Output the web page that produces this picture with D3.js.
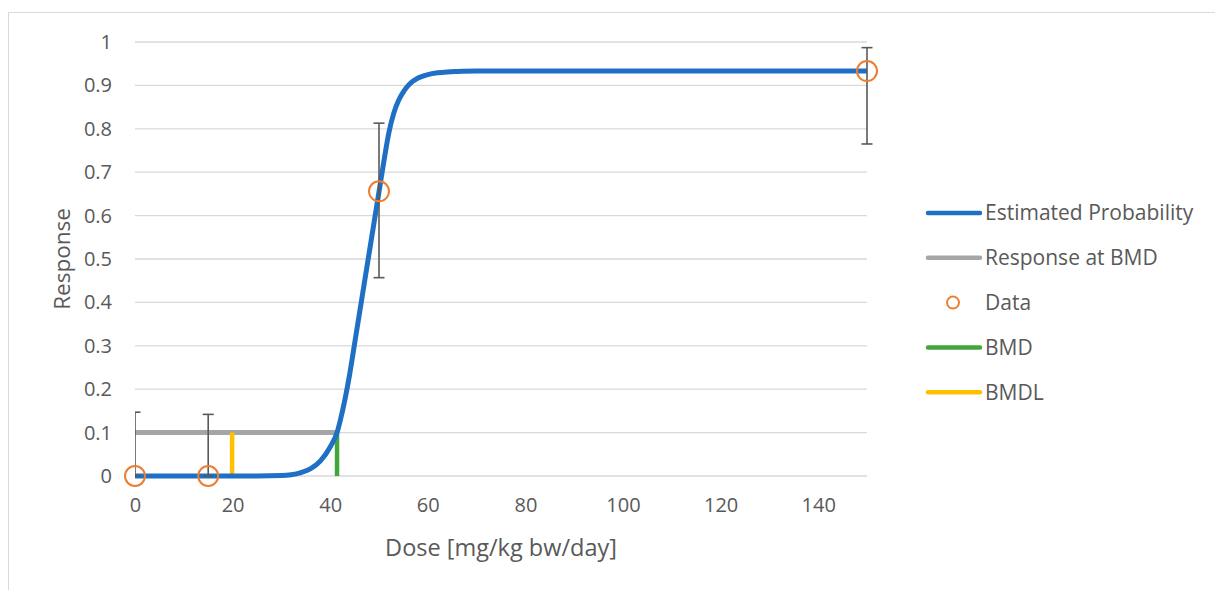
<!DOCTYPE html>
<html>
<head>
<meta charset="utf-8">
<script src="https://cdn.jsdelivr.net/npm/d3@7"></script>
<style>
  body { margin: 0; background: #fff; }
  svg text { font-family: "Open Sans", sans-serif; fill: #595959; }
</style>
</head>
<body>
<div id="chart"></div>
<script>
// fitted curve
const curveDose = [0, 5, 10, 15, 20, 25, 30, 32, 34, 36, 38, 40, 41.4, 42, 43, 44, 45, 46, 47, 48, 49, 50, 51, 52, 53, 54, 55, 56, 57, 58, 60, 62, 64, 66, 70, 80, 100, 120, 150];
const curveProb = [0, 0, 0, 0, 0, 0, 0.001, 0.003, 0.008, 0.017, 0.035, 0.067, 0.1, 0.125, 0.175, 0.235, 0.305, 0.375, 0.445, 0.515, 0.585, 0.655, 0.725, 0.79, 0.835, 0.865, 0.885, 0.9, 0.91, 0.917, 0.925, 0.929, 0.931, 0.932, 0.933, 0.933, 0.933, 0.933, 0.933];

// observed data with error bars
const dataDose = [0, 15, 50, 150];
const dataResp = [0, 0, 0.656, 0.933];
const errLow = [0, 0, 0.457, 0.765];
const errHigh = [0.147, 0.142, 0.813, 0.987];

const bmr = 0.1;
const bmd = 41.4;
const bmdl = 19.9;

const yTicks = [0, 0.1, 0.2, 0.3, 0.4, 0.5, 0.6, 0.7, 0.8, 0.9, 1];
const xTicks = [0, 20, 40, 60, 80, 100, 120, 140];
const legendItems = ["Estimated Probability", "Response at BMD", "Data", "BMD", "BMDL"];

const W = 1215, H = 590;
const margin = { left: 135, right: 348, top: 42, bottom: 114 };

const colBlue = "#1f70c4";
const colGrey = "#a5a5a5";
const colOrange = "#ed7d31";
const colGreen = "#43a63b";
const colYellow = "#ffc000";

const svg = d3.select("#chart").append("svg")
  .attr("width", W)
  .attr("height", H);

// outer frame
svg.append("rect")
  .attr("x", 8.5).attr("y", 12.5)
  .attr("width", W + 10).attr("height", H + 10)
  .attr("fill", "none")
  .attr("stroke", "#d9d9d9");

const x = d3.scaleLinear().domain([0, 150]).range([margin.left, W - margin.right]);
const y = d3.scaleLinear().domain([0, 1]).range([H - margin.bottom, margin.top]);

// gridlines
svg.append("g")
  .selectAll("line")
  .data(yTicks)
  .join("line")
  .attr("x1", x(0)).attr("x2", x(150))
  .attr("y1", d => y(d)).attr("y2", d => y(d))
  .attr("stroke", "#d9d9d9")
  .attr("stroke-width", 1.3);

// y axis labels
const yAxis = svg.append("g")
  .attr("transform", `translate(${x(0) - 23},0)`)
  .call(d3.axisLeft(y).tickValues(yTicks).tickFormat(d3.format("~g")).tickSize(0).tickPadding(0));
yAxis.select(".domain").remove();
yAxis.selectAll("text").attr("font-size", 20).style("font-family", null).attr("fill", "#595959");

// x axis labels
const xAxis = svg.append("g")
  .attr("transform", `translate(0,${y(0) + 22})`)
  .call(d3.axisBottom(x).tickValues(xTicks).tickSize(0).tickPadding(0));
xAxis.select(".domain").remove();
xAxis.selectAll("text").attr("font-size", 20).style("font-family", null).attr("fill", "#595959");

// axis titles
svg.append("text")
  .attr("transform", `translate(70,${(y(0) + y(1)) / 2}) rotate(-90)`)
  .attr("text-anchor", "middle")
  .attr("font-size", 22.5)
  .text("Response");

svg.append("text")
  .attr("x", (x(0) + x(150)) / 2)
  .attr("y", 556)
  .attr("text-anchor", "middle")
  .attr("font-size", 23.5)
  .text("Dose [mg/kg bw/day]");

// left clip for the error bar caps at dose 0
svg.append("clipPath").attr("id", "clipL")
  .append("rect")
  .attr("x", x(0)).attr("y", 0)
  .attr("width", W).attr("height", H);

const plot = svg.append("g").attr("clip-path", "url(#clipL)");

// response at BMD
plot.append("line")
  .attr("x1", x(0)).attr("x2", x(bmd))
  .attr("y1", y(bmr)).attr("y2", y(bmr))
  .attr("stroke", colGrey)
  .attr("stroke-width", 5);

// BMDL / BMD lines
plot.append("line")
  .attr("x1", x(bmdl)).attr("x2", x(bmdl))
  .attr("y1", y(0)).attr("y2", y(bmr))
  .attr("stroke", colYellow)
  .attr("stroke-width", 4.5);

plot.append("line")
  .attr("x1", x(bmd)).attr("x2", x(bmd))
  .attr("y1", y(0)).attr("y2", y(bmr))
  .attr("stroke", colGreen)
  .attr("stroke-width", 4.5);

// fitted curve
const curve = curveDose.map((d, i) => [d, curveProb[i]]);
plot.append("path")
  .datum(curve)
  .attr("fill", "none")
  .attr("stroke", colBlue)
  .attr("stroke-width", 5)
  .attr("d", d3.line().x(d => x(d[0])).y(d => y(d[1])).curve(d3.curveMonotoneX));

// error bars
const capW = 5.5;
const eb = plot.append("g")
  .attr("stroke", "#595959")
  .attr("stroke-width", 1.6);
dataDose.forEach((d, i) => {
  eb.append("line")
    .attr("x1", x(d)).attr("x2", x(d))
    .attr("y1", y(errLow[i])).attr("y2", y(errHigh[i]));
  [errLow[i], errHigh[i]].forEach(v => {
    eb.append("line")
      .attr("x1", x(d) - capW).attr("x2", x(d) + capW)
      .attr("y1", y(v)).attr("y2", y(v));
  });
});

// data points
svg.append("g")
  .selectAll("circle")
  .data(dataDose)
  .join("circle")
  .attr("cx", d => x(d))
  .attr("cy", (d, i) => y(dataResp[i]))
  .attr("r", 10)
  .attr("fill", "none")
  .attr("stroke", colOrange)
  .attr("stroke-width", 2);

// legend
const legend = svg.append("g").attr("transform", "translate(928,213)");
const legendColors = [colBlue, colGrey, colOrange, colGreen, colYellow];
legendItems.forEach((name, i) => {
  const row = legend.append("g").attr("transform", `translate(0,${i * 44.8})`);
  if (name === "Data") {
    row.append("circle")
      .attr("cx", 25).attr("cy", 0).attr("r", 6)
      .attr("fill", "none")
      .attr("stroke", colOrange)
      .attr("stroke-width", 2);
  } else {
    row.append("line")
      .attr("x1", 0).attr("x2", 52)
      .attr("y1", 0).attr("y2", 0)
      .attr("stroke", legendColors[i])
      .attr("stroke-width", 4.5)
      .attr("stroke-linecap", "round");
  }
  row.append("text")
    .attr("x", 57)
    .attr("y", 0)
    .attr("dy", "0.35em")
    .attr("font-size", 21)
    .text(name);
});
</script>
</body>
</html>
